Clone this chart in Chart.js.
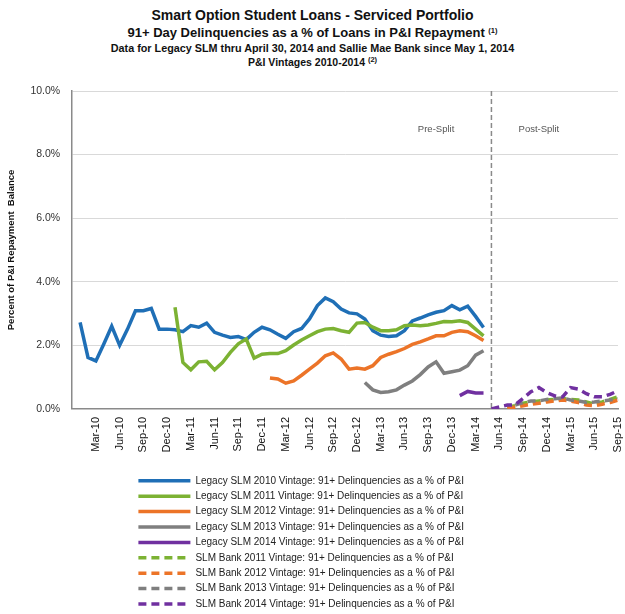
<!DOCTYPE html>
<html>
<head>
<meta charset="utf-8">
<script src="https://cdn.jsdelivr.net/npm/chart.js@4/dist/chart.umd.min.js"></script>
<style>
  html, body { margin: 0; padding: 0; background: #fff; }
  body { width: 625px; font-family: "Liberation Sans", Arial, sans-serif; color: #111; }
  #head { height: 69px; padding-top: 6px; box-sizing: border-box; text-align: center; font-weight: bold; white-space: nowrap; }
  #head .t1 { font-size: 14px; line-height: 18px; }
  #head .t2 { font-size: 13px; line-height: 18px; }
  #head .t3 { font-size: 10.8px; line-height: 13px; }
  #head .t4 { font-size: 10.5px; line-height: 14px; }
  #head .sup { font-size: 7.5px; vertical-align: 4px; line-height: 0; }
  canvas { display: block; }
</style>
</head>
<body>
<div id="head">
  <div class="t1">Smart Option Student Loans - Serviced Portfolio</div>
  <div class="t2">91+ Day Delinquencies as a % of Loans in P&amp;I Repayment <span class="sup">(1)</span></div>
  <div class="t3">Data for Legacy SLM thru April 30, 2014 and Sallie Mae Bank since May 1, 2014</div>
  <div class="t4">P&amp;I Vintages 2010-2014 <span class="sup">(2)</span></div>
</div>
<canvas id="chart" width="625" height="545"></canvas>
<script>
// monthly categories, Dec-09 .. Sep-15
const months = [
  'Dec-09',
  'Jan-10','Feb-10','Mar-10','Apr-10','May-10','Jun-10','Jul-10','Aug-10','Sep-10','Oct-10','Nov-10','Dec-10',
  'Jan-11','Feb-11','Mar-11','Apr-11','May-11','Jun-11','Jul-11','Aug-11','Sep-11','Oct-11','Nov-11','Dec-11',
  'Jan-12','Feb-12','Mar-12','Apr-12','May-12','Jun-12','Jul-12','Aug-12','Sep-12','Oct-12','Nov-12','Dec-12',
  'Jan-13','Feb-13','Mar-13','Apr-13','May-13','Jun-13','Jul-13','Aug-13','Sep-13','Oct-13','Nov-13','Dec-13',
  'Jan-14','Feb-14','Mar-14','Apr-14','May-14','Jun-14','Jul-14','Aug-14','Sep-14','Oct-14','Nov-14','Dec-14',
  'Jan-15','Feb-15','Mar-15','Apr-15','May-15','Jun-15','Jul-15','Aug-15','Sep-15'
];
// only the quarter labels are printed on the axis
const shownTicks = [
  'Mar-10','Jun-10','Sep-10','Dec-10','Mar-11','Jun-11','Sep-11','Dec-11',
  'Mar-12','Jun-12','Sep-12','Dec-12','Mar-13','Jun-13','Sep-13','Dec-13',
  'Mar-14','Jun-14','Sep-14','Dec-14','Mar-15','Jun-15','Sep-15'
];
const yTicks = [0, 2, 4, 6, 8, 10];

// % of P&I repayment balance, 91+ days delinquent
const legacy2010 = [2.72,1.62,1.51,2.04,2.60,2.00,2.51,3.09,3.09,3.16,2.51,2.51,
  2.49,2.43,2.62,2.57,2.70,2.41,2.32,2.25,2.28,2.18,2.41,2.57,
  2.49,2.35,2.22,2.43,2.53,2.83,3.25,3.49,3.37,3.14,3.02,2.99,
  2.83,2.46,2.32,2.28,2.30,2.46,2.77,2.86,2.96,3.04,3.09,3.25,
  3.12,3.23,2.91,2.56];
const legacy2011 = [3.20,1.46,1.23,1.48,1.50,1.23,1.46,1.78,2.05,2.20,1.60,1.72,
  1.74,1.74,1.83,2.01,2.17,2.30,2.43,2.51,2.53,2.46,2.41,2.70,
  2.72,2.57,2.46,2.46,2.49,2.62,2.64,2.62,2.64,2.69,2.75,2.74,
  2.77,2.72,2.51,2.30];
const legacy2012 = [0.97,0.94,0.81,0.88,1.06,1.25,1.44,1.67,1.76,1.57,1.25,1.29,
  1.25,1.36,1.62,1.72,1.80,1.90,2.03,2.11,2.20,2.30,2.30,2.41,
  2.46,2.43,2.30,2.15];
const legacy2013 = [0.83,0.60,0.52,0.54,0.60,0.75,0.88,1.08,1.32,1.48,1.12,1.17,
  1.22,1.36,1.69,1.83];
const legacy2014 = [0.42,0.55,0.50,0.50];
const bank2011 = [0.05,0.10,0.18,0.22,0.25,0.28,0.30,0.33,0.30,0.28,0.22,0.15,0.22,0.30,0.38];
const bank2012 = [0.02,0.05,0.10,0.15,0.18,0.22,0.25,0.28,0.25,0.20,0.12,0.10,0.15,0.20,0.28];
const bank2013 = [0.12,0.20,0.25,0.25,0.30,0.32,0.35,0.28,0.25,0.20,0.22,0.25,0.28,0.32];
const bank2014 = [0.00,0.06,0.12,0.13,0.33,0.54,0.67,0.51,0.41,0.38,0.67,0.62,0.48,0.38,0.38,0.46,0.57];

const seriesNames = [
  'Legacy SLM 2010 Vintage: 91+ Delinquencies as a % of P&I',
  'Legacy SLM 2011 Vintage: 91+ Delinquencies as a % of P&I',
  'Legacy SLM 2012 Vintage: 91+ Delinquencies as a % of P&I',
  'Legacy SLM 2013 Vintage: 91+ Delinquencies as a % of P&I',
  'Legacy SLM 2014 Vintage: 91+ Delinquencies as a % of P&I',
  'SLM Bank 2011 Vintage: 91+ Delinquencies as a % of P&I',
  'SLM Bank 2012 Vintage: 91+ Delinquencies as a % of P&I',
  'SLM Bank 2013 Vintage: 91+ Delinquencies as a % of P&I',
  'SLM Bank 2014 Vintage: 91+ Delinquencies as a % of P&I'
];
const seriesValues = [legacy2010, legacy2011, legacy2012, legacy2013, legacy2014,
  bank2011, bank2012, bank2013, bank2014];
const seriesStart = ['Jan-10','Jan-11','Jan-12','Jan-13','Jan-14','Jul-14','Jul-14','Aug-14','May-14'];
const seriesColors = ['#1f6fb6','#7cb233','#ec7428','#7f7f7f','#7030a0',
  '#7cb233','#ec7428','#7f7f7f','#7030a0'];
const seriesDashed = [false,false,false,false,false,true,true,true,true];

const splitMonth = 'May-14';
const splitLabels = ['Pre-Split','Post-Split'];
const splitLabelMonths = ['Oct-13','Nov-14'];
const splitLabelLevel = 8.8;

Chart.defaults.font.family = '"Liberation Sans", Arial, sans-serif';
Chart.defaults.color = '#222';

// spread each vintage onto the month axis
const datasets = seriesValues.map((vals, i) => {
  const start = months.indexOf(seriesStart[i]);
  return {
    label: seriesNames[i],
    data: months.map((m, j) => (j >= start && j < start + vals.length) ? vals[j - start] : null),
    borderColor: seriesColors[i],
    backgroundColor: seriesColors[i],
    borderWidth: 3.5,
    borderDash: seriesDashed[i] ? [8, 5] : [],
    pointRadius: 0,
    tension: 0,
    fill: false,
    order: seriesValues.length - i   // later vintages on top, like the original
  };
});

// dashed split line + the pre/post labels
const splitMarker = {
  id: 'splitMarker',
  beforeDatasetsDraw(chart) {
    const {ctx, chartArea, scales: {x}} = chart;
    const px = x.getPixelForValue(months.indexOf(splitMonth));
    ctx.save();
    ctx.strokeStyle = '#8a8a8a';
    ctx.lineWidth = 1.5;
    ctx.setLineDash([5, 3]);
    ctx.beginPath();
    ctx.moveTo(px, chartArea.top);
    ctx.lineTo(px, chartArea.bottom);
    ctx.stroke();
    ctx.restore();
  },
  afterDatasetsDraw(chart) {
    const {ctx, scales: {x, y}} = chart;
    ctx.save();
    ctx.font = '9.5px "Liberation Sans", Arial, sans-serif';
    ctx.fillStyle = '#555';
    ctx.textAlign = 'center';
    ctx.textBaseline = 'middle';
    splitLabels.forEach((t, i) => {
      ctx.fillText(t, x.getPixelForValue(months.indexOf(splitLabelMonths[i])), y.getPixelForValue(splitLabelLevel));
    });
    ctx.restore();
  }
};

// keep the legend as one left-aligned column, centred as a block
const legendPlacer = {
  id: 'legendPlacer',
  afterLayout(chart, args, opts) {
    const lg = chart.legend;
    const rowW = Math.max(...lg.lineWidths);
    const dx = (chart.width - rowW) / 2 - lg.left + opts.dx;
    lg.left += dx;
    lg.right += dx;
    lg.top += opts.dy;
    lg.bottom += opts.dy;
  }
};

new Chart(document.getElementById('chart'), {
  type: 'line',
  data: { labels: months, datasets: datasets },
  plugins: [splitMarker, legendPlacer],
  options: {
    responsive: false,
    animation: false,
    spanGaps: false,
    layout: { padding: { left: 0, right: 7, top: 22, bottom: 0 } },
    plugins: {
      tooltip: { enabled: false },
      title: { display: false },
      legend: {
        position: 'bottom',
        align: 'start',
        labels: {
          usePointStyle: true,
          pointStyle: 'line',
          pointStyleWidth: 52,
          font: { size: 10 },
          color: '#222',
          padding: 5.4,
          sort: (a, b) => a.datasetIndex - b.datasetIndex,
          // point-style legend items take the point's (solid) style, so copy the line's dash back in
          generateLabels: chart => Chart.defaults.plugins.legend.labels.generateLabels(chart).map(item => {
            const ds = chart.data.datasets[item.datasetIndex];
            item.lineDash = ds.borderDash;
            item.lineWidth = ds.borderWidth;
            item.strokeStyle = ds.borderColor;
            return item;
          })
        }
      },
      legendPlacer: { dx: -14, dy: 5 }
    },
    scales: {
      x: {
        type: 'category',
        offset: false,
        grid: { display: false },
        border: { color: '#8a8a8a', width: 1.5 },
        ticks: {
          autoSkip: false,
          maxRotation: 90,
          minRotation: 90,
          padding: 0,
          font: { size: 11 },
          color: '#111',
          callback: function (value) {
            const m = this.getLabelForValue(value);
            return shownTicks.includes(m) ? m : '';
          }
        },
        afterFit: s => { s.height += 13; s.paddingRight = 0; }
      },
      y: {
        min: 0,
        max: 10,
        afterBuildTicks: s => { s.ticks = yTicks.map(v => ({ value: v })); },
        grid: { color: '#d9d9d9', lineWidth: 1, drawTicks: false },
        border: { color: '#8a8a8a', width: 1.5 },
        ticks: {
          padding: 12,
          font: { size: 10.5 },
          color: '#333',
          callback: v => v.toFixed(1) + '%'
        },
        title: {
          display: true,
          text: 'Percent of P&I Repayment  Balance',
          font: { size: 9.5, weight: 'bold' },
          color: '#111',
          padding: { top: 6, bottom: 1 }
        }
      }
    }
  }
});
</script>
</body>
</html>
